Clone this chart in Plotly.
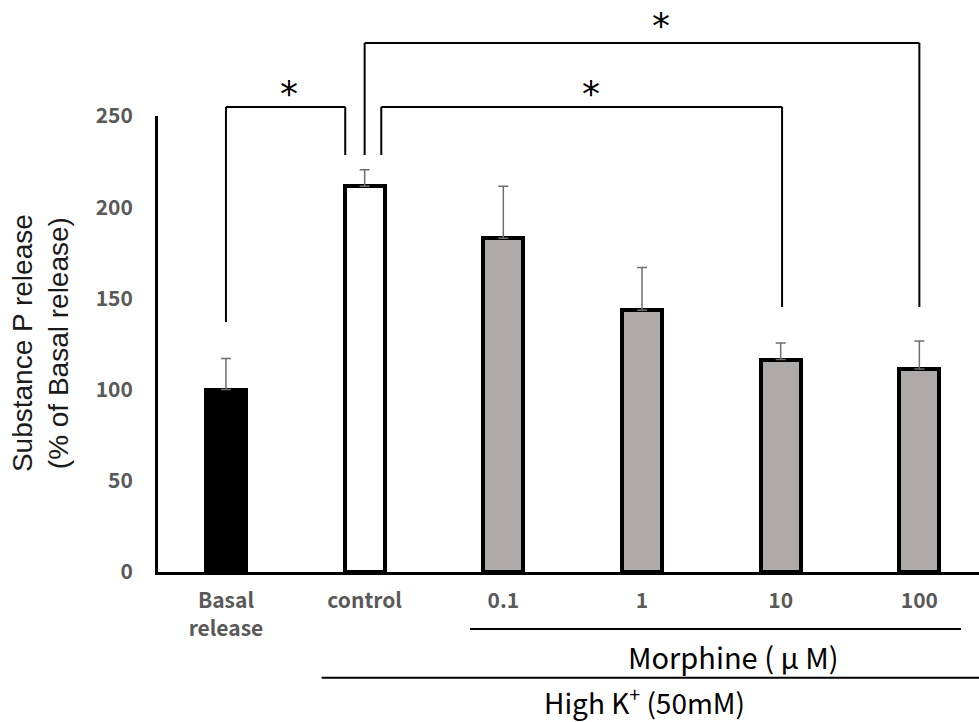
import plotly.graph_objects as go

# Substance P release data (% of basal release), mean and upper error
categories = ["Basal<br>release", "control", "0.1", "1", "10", "100"]
means = [100, 211.5, 183, 143.5, 116.5, 111.3]
errors = [17, 9, 28.5, 23.5, 9, 15.3]
bar_colors = ["#000000", "#ffffff", "#aeaaa9", "#aeaaa9", "#aeaaa9", "#aeaaa9"]

# Significance brackets: (from, to, left drop, right drop, top level)
brackets = [
    (0.0, 0.86, 137, 228.6, 255),
    (1.0, 5.0, 228.6, 145.3, 290),
    (1.12, 4.01, 228.6, 145.3, 255),
]
stars = [(0.455, 262.5), (3.14, 299.5), (2.63, 262.5)]

X_RANGE = [-0.49, 5.43]
Y_RANGE = [0, 250]


def xp(v):
    return (v - X_RANGE[0]) / (X_RANGE[1] - X_RANGE[0])


def yp(v):
    return (v - Y_RANGE[0]) / (Y_RANGE[1] - Y_RANGE[0])


xs = list(range(len(categories)))

fig = go.Figure()
fig.add_trace(go.Bar(
    x=xs, y=means, width=0.29,
    marker=dict(color=bar_colors, line=dict(color="#000000", width=4)),
    error_y=dict(type="data", symmetric=False, array=errors,
                 arrayminus=[0] * len(errors), color="#6e6e6e",
                 thickness=1.5, width=5),
    showlegend=False,
))

shapes = []
line_style = dict(color="#000000", width=2)
for x0, x1, y0, y1, top in brackets:
    shapes.append(dict(type="line", xref="paper", yref="paper",
                       x0=xp(x0), x1=xp(x0), y0=yp(y0), y1=yp(top), line=line_style))
    shapes.append(dict(type="line", xref="paper", yref="paper",
                       x0=xp(x0), x1=xp(x1), y0=yp(top), y1=yp(top), line=line_style))
    shapes.append(dict(type="line", xref="paper", yref="paper",
                       x0=xp(x1), x1=xp(x1), y0=yp(top), y1=yp(y1), line=line_style))

# Group lines under the axis
shapes.append(dict(type="line", xref="paper", yref="paper",
                   x0=xp(1.76), x1=xp(5.30), y0=-0.125, y1=-0.125, line=line_style))
shapes.append(dict(type="line", xref="paper", yref="paper",
                   x0=xp(0.69), x1=1.0, y0=-0.232, y1=-0.232, line=line_style))

annotations = []
for sx, sy in stars:
    annotations.append(dict(x=xp(sx), y=yp(sy), xref="paper", yref="paper", text="*",
                            showarrow=False, xanchor="center", yanchor="middle",
                            font=dict(family="DejaVu Sans", size=36, color="#000000")))

annotations.append(dict(x=xp(3.66), y=-0.184, xref="paper", yref="paper",
                        text="Morphine ( μ M)", showarrow=False,
                        xanchor="center", yanchor="middle",
                        font=dict(family="Noto Sans CJK JP", size=29, color="#000000")))
annotations.append(dict(x=xp(3.02), y=-0.281, xref="paper", yref="paper",
                        text="High K<sup>+</sup> (50mM)", showarrow=False,
                        xanchor="center", yanchor="middle",
                        font=dict(family="Noto Sans CJK JP", size=28, color="#000000")))
annotations.append(dict(x=0, y=yp(125.5), xref="paper", yref="paper",
                        xshift=-118, textangle=-90, xanchor="center", yanchor="middle",
                        text="Substance P release<br>(% of Basal release)", showarrow=False,
                        font=dict(family="Liberation Sans", size=28, color="#1a1a1a")))

tick_font = dict(family="Noto Sans CJK JP", size=21, color="#595959", weight="bold")

fig.update_layout(
    width=979, height=722,
    margin=dict(l=158, r=0, t=116, b=150),
    paper_bgcolor="#ffffff", plot_bgcolor="#ffffff",
    bargap=0,
    shapes=shapes, annotations=annotations,
    xaxis=dict(range=X_RANGE, tickvals=xs, ticktext=categories,
               showline=True, linecolor="#000000", linewidth=3,
               showgrid=False, zeroline=False, ticks="", ticklabelstandoff=8,
               tickfont=tick_font),
    yaxis=dict(range=Y_RANGE, tickvals=[0, 50, 100, 150, 200, 250],
               showline=True, linecolor="#000000", linewidth=3,
               showgrid=False, zeroline=False, ticks="", ticklabelstandoff=18,
               tickfont=tick_font),
)

fig.write_html("out.html")
